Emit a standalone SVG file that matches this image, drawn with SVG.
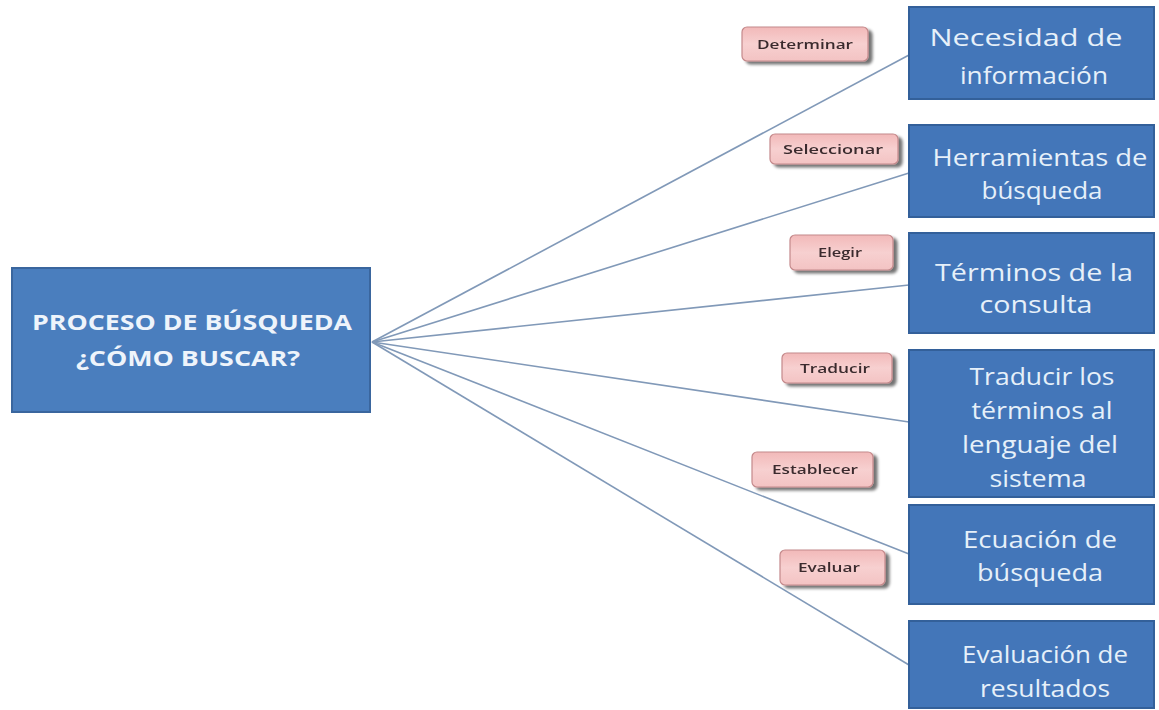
<svg xmlns="http://www.w3.org/2000/svg" width="1159" height="710" viewBox="0 0 1159 710">
  <defs>
    <linearGradient id="pink" x1="0" y1="0" x2="0" y2="1">
      <stop offset="0" stop-color="#f2b9b9"/>
      <stop offset="0.5" stop-color="#f7d0d0"/>
      <stop offset="1" stop-color="#f3c3c3"/>
    </linearGradient>
    <filter id="sh" x="-20%" y="-30%" width="150%" height="180%">
      <feGaussianBlur in="SourceAlpha" stdDeviation="1.5"/>
      <feOffset dx="4" dy="3" result="b"/>
      <feComponentTransfer><feFuncA type="linear" slope="0.55"/></feComponentTransfer>
      <feMerge><feMergeNode/><feMergeNode in="SourceGraphic"/></feMerge>
    </filter>
  </defs>
  <style>
    .box { fill: #4376b9; stroke: #33609a; stroke-width: 2; }
    .main { fill: #4a7ebe; stroke: #3a669e; stroke-width: 2; }
    .bt { font-family: "Open Sans", "DejaVu Sans", sans-serif; font-size: 24px; fill: #e6f0f9; text-anchor: middle; }
    .mt { font-family: "Open Sans", "DejaVu Sans", sans-serif; font-size: 21px; font-weight: bold; fill: #eef4fb; text-anchor: middle; }
    .lab { fill: url(#pink); stroke: #c4898b; stroke-width: 1.2; }
    .lt { font-family: "Open Sans", "DejaVu Sans", sans-serif; font-size: 13px; font-weight: 600; fill: #3b2c2e; text-anchor: middle; }
    .conn line { stroke: #8199b8; stroke-width: 1.6; fill: none; }
  </style>
  <rect width="1159" height="710" fill="#ffffff"/>

  <g id="connectors" class="conn">
    <line x1="372" y1="342" x2="909" y2="55"/>
    <line x1="372" y1="342" x2="909" y2="173"/>
    <line x1="372" y1="342" x2="909" y2="285"/>
    <line x1="372" y1="342" x2="909" y2="422"/>
    <line x1="372" y1="342" x2="909" y2="554"/>
    <line x1="372" y1="342" x2="909" y2="665"/>
  </g>

  <g id="main">
    <rect class="main" x="12" y="268" width="358" height="144"/>
    <text class="mt" x="192" y="330" textLength="320" lengthAdjust="spacingAndGlyphs">PROCESO DE BÚSQUEDA</text>
    <text class="mt" x="188" y="366" textLength="224" lengthAdjust="spacingAndGlyphs">¿CÓMO BUSCAR?</text>
  </g>

  <g id="n1">
    <rect class="box" x="909" y="7" width="245" height="92"/>
    <text class="bt" x="1026" y="46" textLength="193" lengthAdjust="spacingAndGlyphs">Necesidad de</text>
    <text class="bt" x="1034" y="84" textLength="148" lengthAdjust="spacingAndGlyphs">información</text>
  </g>
  <g id="n2">
    <rect class="box" x="909" y="125" width="245" height="92"/>
    <text class="bt" x="1040" y="166" textLength="215" lengthAdjust="spacingAndGlyphs">Herramientas de</text>
    <text class="bt" x="1042" y="199" textLength="121" lengthAdjust="spacingAndGlyphs">búsqueda</text>
  </g>
  <g id="n3">
    <rect class="box" x="909" y="233" width="245" height="100"/>
    <text class="bt" x="1034" y="281" textLength="198" lengthAdjust="spacingAndGlyphs">Términos de la</text>
    <text class="bt" x="1036" y="313" textLength="113" lengthAdjust="spacingAndGlyphs">consulta</text>
  </g>
  <g id="n4">
    <rect class="box" x="909" y="350" width="245" height="147"/>
    <text class="bt" x="1042" y="385" textLength="145" lengthAdjust="spacingAndGlyphs">Traducir los</text>
    <text class="bt" x="1042" y="419" textLength="141" lengthAdjust="spacingAndGlyphs">términos  al</text>
    <text class="bt" x="1040" y="453" textLength="156" lengthAdjust="spacingAndGlyphs">lenguaje del</text>
    <text class="bt" x="1038" y="487" textLength="97" lengthAdjust="spacingAndGlyphs">sistema</text>
  </g>
  <g id="n5">
    <rect class="box" x="909" y="505" width="245" height="99"/>
    <text class="bt" x="1040" y="548" textLength="154" lengthAdjust="spacingAndGlyphs">Ecuación de</text>
    <text class="bt" x="1040" y="581" textLength="126" lengthAdjust="spacingAndGlyphs">búsqueda</text>
  </g>
  <g id="n6">
    <rect class="box" x="909" y="621" width="245" height="87"/>
    <text class="bt" x="1045" y="663" textLength="166" lengthAdjust="spacingAndGlyphs">Evaluación de</text>
    <text class="bt" x="1045" y="697" textLength="130" lengthAdjust="spacingAndGlyphs">resultados</text>
  </g>

  <g id="l1" filter="url(#sh)">
    <rect class="lab" x="742" y="27" width="126" height="34" rx="5"/>
    <text class="lt" x="805" y="49" textLength="96" lengthAdjust="spacingAndGlyphs">Determinar</text>
  </g>
  <g id="l2" filter="url(#sh)">
    <rect class="lab" x="770" y="134" width="128" height="30" rx="5"/>
    <text class="lt" x="833" y="154" textLength="100" lengthAdjust="spacingAndGlyphs">Seleccionar</text>
  </g>
  <g id="l3" filter="url(#sh)">
    <rect class="lab" x="790" y="235" width="103" height="35" rx="5"/>
    <text class="lt" x="840" y="257" textLength="44" lengthAdjust="spacingAndGlyphs">Elegir</text>
  </g>
  <g id="l4" filter="url(#sh)">
    <rect class="lab" x="782" y="353" width="110" height="30" rx="5"/>
    <text class="lt" x="835" y="373" textLength="70" lengthAdjust="spacingAndGlyphs">Traducir</text>
  </g>
  <g id="l5" filter="url(#sh)">
    <rect class="lab" x="752" y="452" width="121" height="35" rx="5"/>
    <text class="lt" x="815" y="474" textLength="86" lengthAdjust="spacingAndGlyphs">Establecer</text>
  </g>
  <g id="l6" filter="url(#sh)">
    <rect class="lab" x="780" y="550" width="105" height="35" rx="5"/>
    <text class="lt" x="829" y="572" textLength="62" lengthAdjust="spacingAndGlyphs">Evaluar</text>
  </g>
</svg>
